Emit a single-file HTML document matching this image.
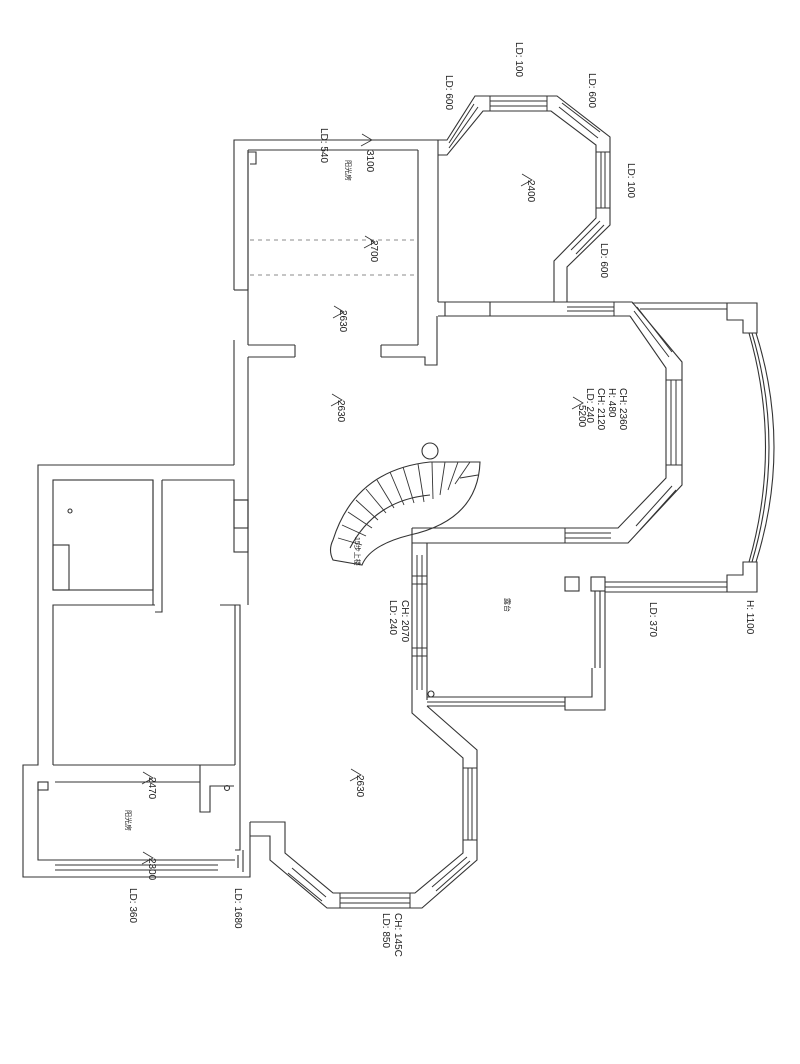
<!DOCTYPE html>
<html><head><meta charset="utf-8"><style>
html,body{margin:0;padding:0;background:#fff}
svg{display:block}
text{font-family:"Liberation Sans","Noto Sans CJK SC",sans-serif;fill:#222}
</style></head><body>
<svg width="800" height="1064" viewBox="0 0 800 1064" xmlns="http://www.w3.org/2000/svg">
<g fill="none" stroke="#333" stroke-width="1.1">
<polyline points="438,140 234,140 234,290"/>
<polyline points="248,290 248,152 256,152 256,164 250,164"/>
<line x1="248" y1="150" x2="418" y2="150"/>
<line x1="234" y1="290" x2="248" y2="290"/>
<line x1="248" y1="150" x2="248" y2="345"/>
<line x1="418" y1="150" x2="418" y2="345"/>
<polyline points="438,140 438,302"/>
<line x1="248" y1="345" x2="295" y2="345"/><line x1="295" y1="345" x2="295" y2="357"/>
<line x1="381" y1="345" x2="418" y2="345"/><line x1="381" y1="345" x2="381" y2="357"/>
<polyline points="234,340 234,465"/><polyline points="248,357 295,357"/><polyline points="381,357 425,357 425,365 437,365 437,316"/>
<polyline points="248,357 248,465"/>
<polyline points="438,140 447,140 475,96 557,96 610,137 610,225 567,267 567,302"/>
<polyline points="438,155 447,155 483,111 551,111 596,145 596,218 554,261 554,302"/>
<line x1="438" y1="302" x2="567" y2="302"/><line x1="438" y1="316" x2="630" y2="316"/>
<line x1="445" y1="302" x2="445" y2="316"/><line x1="490" y1="302" x2="490" y2="316"/>
<polyline points="567,302 632,302 682,362 682,485 628,543 412,543"/>
<polyline points="630,316 666,368 666,478 618,528 412,528"/>
<line x1="632" y1="303" x2="727" y2="303"/><line x1="640" y1="309" x2="727" y2="309"/>
<polyline points="727,303 757,303 757,333 743,333 743,320 727,320 727,303"/>
<polyline points="727,592 757,592 757,562 743,562 743,575 727,575 727,592"/>
<path d="M749,333 Q782,447 749,562"/><path d="M752,333 Q786,447 752,562"/><path d="M756,333 Q792,447 756,562"/>
<line x1="605" y1="582" x2="727" y2="582"/><line x1="605" y1="587" x2="727" y2="587"/><line x1="605" y1="592" x2="727" y2="592"/>
<line x1="412" y1="528" x2="412" y2="700"/><line x1="427" y1="543" x2="427" y2="700"/>
<rect x="565" y="577" width="14" height="14"/><rect x="591" y="577" width="14" height="14"/>
<line x1="595" y1="591" x2="595" y2="668"/><line x1="600" y1="591" x2="600" y2="668"/><line x1="605" y1="591" x2="605" y2="668"/>
<polyline points="605,668 605,710 565,710 565,697 592,697 592,668"/>
<line x1="427" y1="697" x2="565" y2="697"/><line x1="427" y1="702" x2="565" y2="702"/><line x1="427" y1="706" x2="565" y2="706"/>
<circle cx="431" cy="694" r="3"/>
<polyline points="412,700 412,713 463,758 463,853 415,893 333,893 285,853 285,822 250,822"/>
<polyline points="427,706 477,750 477,860 422,908 327,908 270,860 270,836 250,836"/>
<polyline points="234,465 38,465 38,765 23,765 23,877 250,877 250,822"/>
<polyline points="248,465 248,605"/>
<rect x="53" y="480" width="100" height="110"/><rect x="53" y="545" width="16" height="45"/>
<polyline points="162,480 234,480 234,500"/><line x1="162" y1="480" x2="162" y2="605"/><line x1="153" y1="480" x2="153" y2="605"/>
<rect x="234" y="500" width="14" height="28"/><rect x="234" y="500" width="14" height="52"/>
<polyline points="53,765 53,605 155,605"/><polyline points="155,612 162,612 162,605"/>
<polyline points="220,605 240,605 240,850 235,850"/>
<line x1="235" y1="605" x2="235" y2="765"/>
<line x1="53" y1="765" x2="235" y2="765"/>
<polyline points="38,782 38,860 235,860"/><rect x="38" y="782" width="10" height="8"/>
<line x1="55" y1="782" x2="200" y2="782"/>
<polyline points="200,765 200,812 210,812 210,786 234,786"/>
<line x1="55" y1="865" x2="218" y2="865"/><line x1="55" y1="870" x2="218" y2="870"/>
<line x1="243" y1="850" x2="243" y2="872"/><line x1="238" y1="855" x2="238" y2="868"/>
<circle cx="227" cy="788" r="2.5"/>
<circle cx="70" cy="511" r="2"/>
<g stroke-width="1">
<line x1="490" y1="96" x2="490" y2="111"/><line x1="547" y1="96" x2="547" y2="111"/>
<line x1="490" y1="101" x2="547" y2="101"/><line x1="490" y1="106" x2="547" y2="106"/>
<line x1="449" y1="143" x2="474" y2="104"/><line x1="449" y1="148" x2="478" y2="107"/>
<line x1="562" y1="103" x2="600" y2="132"/><line x1="559" y1="107" x2="598" y2="138"/>
<line x1="601" y1="152" x2="601" y2="208"/><line x1="605" y1="152" x2="605" y2="208"/>
<line x1="596" y1="152" x2="610" y2="152"/><line x1="596" y1="208" x2="610" y2="208"/>
<line x1="604" y1="225" x2="576" y2="254"/><line x1="600" y1="221" x2="571" y2="250"/>
<line x1="567" y1="307" x2="614" y2="307"/><line x1="567" y1="311" x2="614" y2="311"/><line x1="614" y1="302" x2="614" y2="316"/>
<line x1="637" y1="307" x2="672" y2="352"/><line x1="634" y1="311" x2="669" y2="357"/>
<line x1="671" y1="380" x2="671" y2="465"/><line x1="676" y1="380" x2="676" y2="465"/>
<line x1="666" y1="380" x2="682" y2="380"/><line x1="666" y1="465" x2="682" y2="465"/>
<line x1="676" y1="490" x2="640" y2="530"/><line x1="672" y1="486" x2="636" y2="526"/>
<line x1="565" y1="533" x2="611" y2="533"/><line x1="565" y1="538" x2="611" y2="538"/><line x1="565" y1="528" x2="565" y2="543"/>
<line x1="417" y1="555" x2="417" y2="690"/><line x1="422" y1="555" x2="422" y2="690"/>
<rect x="412" y="576" width="15" height="8"/><rect x="412" y="648" width="15" height="8"/>
<line x1="468" y1="768" x2="468" y2="840"/><line x1="472" y1="768" x2="472" y2="840"/>
<line x1="463" y1="768" x2="477" y2="768"/><line x1="463" y1="840" x2="477" y2="840"/>
<line x1="470" y1="861" x2="436" y2="891"/><line x1="467" y1="857" x2="432" y2="887"/>
<line x1="340" y1="898" x2="410" y2="898"/><line x1="340" y1="903" x2="410" y2="903"/>
<line x1="340" y1="893" x2="340" y2="908"/><line x1="410" y1="893" x2="410" y2="908"/>
<line x1="322" y1="901" x2="288" y2="873"/><line x1="326" y1="897" x2="292" y2="868"/>
</g>
<path d="M333,540 Q355,470 430,462 L480,462 Q478,520 410,535 Q370,545 362,565 L333,560 Q328,550 333,540 Z"/>
<path d="M350,548 Q375,500 430,495"/>
<g stroke-width="0.9">
<line x1="338" y1="538" x2="362" y2="545"/><line x1="342" y1="525" x2="366" y2="536"/><line x1="348" y1="512" x2="372" y2="528"/>
<line x1="356" y1="500" x2="378" y2="520"/><line x1="366" y1="489" x2="386" y2="513"/><line x1="377" y1="480" x2="394" y2="508"/>
<line x1="390" y1="472" x2="404" y2="505"/><line x1="403" y1="467" x2="414" y2="503"/><line x1="418" y1="464" x2="424" y2="502"/>
<line x1="432" y1="462" x2="433" y2="499"/><line x1="445" y1="462" x2="440" y2="495"/><line x1="458" y1="462" x2="448" y2="490"/>
<line x1="470" y1="462" x2="455" y2="484"/><line x1="478" y1="475" x2="460" y2="478"/>
</g>
<circle cx="430" cy="451" r="8"/>
</g>
<g stroke="#666" stroke-dasharray="4,4" stroke-width="0.8">
<line x1="250" y1="240" x2="418" y2="240"/><line x1="250" y1="275" x2="418" y2="275"/>
</g>
<g font-size="10">
<text transform="translate(367,150) rotate(90)">3100</text>
<text transform="translate(371,240) rotate(90)">2700</text>
<text transform="translate(340,310) rotate(90)">2630</text>
<text transform="translate(528,180) rotate(90)">2400</text>
<text transform="translate(338,400) rotate(90)">2630</text>
<text transform="translate(579,405) rotate(90)">5200</text>
<text transform="translate(357,775) rotate(90)">2630</text>
<text transform="translate(149,777) rotate(90)">2470</text>
<text transform="translate(149,858) rotate(90)">2300</text>
<text transform="translate(620,388) rotate(90)">CH: 2360</text>
<text transform="translate(609,388) rotate(90)">H: 480</text>
<text transform="translate(598,388) rotate(90)">CH: 2120</text>
<text transform="translate(587,388) rotate(90)">LD: 240</text>
<text transform="translate(402,600) rotate(90)">CH: 2070</text>
<text transform="translate(390,600) rotate(90)">LD: 240</text>
<text transform="translate(395,913) rotate(90)">CH: 145C</text>
<text transform="translate(383,913) rotate(90)">LD: 850</text>
<text transform="translate(321,128) rotate(90)">LD: 540</text>
<text transform="translate(446,75) rotate(90)">LD: 600</text>
<text transform="translate(516,42) rotate(90)">LD: 100</text>
<text transform="translate(589,73) rotate(90)">LD: 600</text>
<text transform="translate(628,163) rotate(90)">LD: 100</text>
<text transform="translate(601,243) rotate(90)">LD: 600</text>
<text transform="translate(650,602) rotate(90)">LD: 370</text>
<text transform="translate(747,600) rotate(90)">H: 1100</text>
<text transform="translate(130,888) rotate(90)">LD: 360</text>
<text transform="translate(235,888) rotate(90)">LD: 1680</text>
</g>
<g font-size="7">
<text transform="translate(346,160) rotate(90)">阳光房</text>
<text transform="translate(126,810) rotate(90)">阳光房</text>
<text transform="translate(505,598) rotate(90)">露台</text>
<text transform="translate(355,537) rotate(90)">15步上楼</text>
</g>
<g stroke="#333" fill="none" stroke-width="0.8">
<polyline points="362,134 372,140 361,146"/><polyline points="365,236 375,242 364,248"/><polyline points="334,306 344,312 333,318"/>
<polyline points="522,174 532,180 521,186"/><polyline points="332,394 342,400 331,406"/><polyline points="573,397 583,403 572,409"/>
<polyline points="351,769 361,775 350,781"/><polyline points="143,772 153,778 142,784"/><polyline points="143,852 153,858 142,864"/>
</g>
</svg>
</body></html>
